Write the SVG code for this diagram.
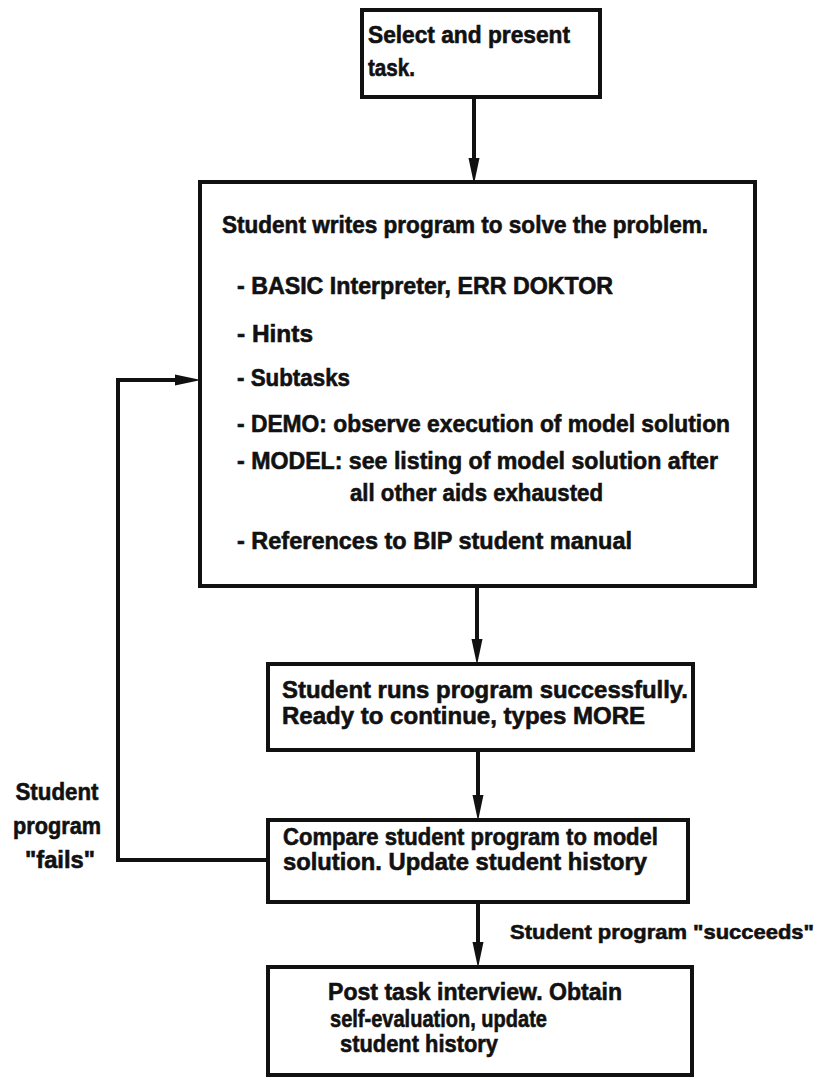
<svg xmlns="http://www.w3.org/2000/svg" width="827" height="1081" viewBox="0 0 827 1081">
  <style>
    .box { fill: #ffffff; stroke: #111111; stroke-width: 4; }
    .link { fill: none; stroke: #111111; stroke-width: 4; }
    .t { font-family: "Liberation Sans", Arial, sans-serif; font-weight: bold; font-size: 24px; fill: #111111; stroke: #111111; stroke-width: 0.6; }
    .edge-label { font-size: 21px; }
  </style>
  <defs>
    <marker id="head" markerUnits="userSpaceOnUse" markerWidth="26" markerHeight="12" refX="14" refY="6" orient="auto">
      <path d="M0,0.5 L26,6 L0,11.5 Z" fill="#111111"/>
    </marker>
  </defs>

  <rect width="827" height="1081" fill="#ffffff"/>

  <!-- connectors -->
  <g id="connectors">
    <line class="link" x1="474" y1="97" x2="474" y2="172" marker-end="url(#head)"/>
    <line class="link" x1="477" y1="586" x2="477" y2="653" marker-end="url(#head)"/>
    <line class="link" x1="478" y1="750" x2="478" y2="809" marker-end="url(#head)"/>
    <line class="link" x1="478" y1="902" x2="478" y2="956" marker-end="url(#head)"/>
    <polyline class="link" points="268,860 118,860 118,380 189,380" marker-end="url(#head)"/>
    <text class="t" x="57" y="800" text-anchor="middle" textLength="83" lengthAdjust="spacingAndGlyphs">Student</text>
    <text class="t" x="57" y="834" text-anchor="middle" textLength="88" lengthAdjust="spacingAndGlyphs">program</text>
    <text class="t" x="60" y="868" text-anchor="middle" textLength="70" lengthAdjust="spacingAndGlyphs">"fails"</text>
    <text class="t edge-label" x="510" y="939" textLength="304" lengthAdjust="spacingAndGlyphs">Student program "succeeds"</text>
  </g>

  <!-- select task -->
  <g id="select-task">
    <rect class="box" x="362" y="10" width="238" height="87"/>
    <text class="t" x="368" y="43" textLength="202" lengthAdjust="spacingAndGlyphs">Select and present</text>
    <text class="t" x="368" y="76" textLength="47" lengthAdjust="spacingAndGlyphs">task.</text>
  </g>

  <!-- student writes program -->
  <g id="write-program">
    <rect class="box" x="200" y="182" width="555" height="404"/>
    <text class="t" x="222" y="233" textLength="486" lengthAdjust="spacingAndGlyphs">Student writes program to solve the problem.</text>
    <text class="t" x="237" y="294" textLength="376" lengthAdjust="spacingAndGlyphs">- BASIC Interpreter, ERR DOKTOR</text>
    <text class="t" x="237" y="342" textLength="76" lengthAdjust="spacingAndGlyphs">- Hints</text>
    <text class="t" x="237" y="386" textLength="113" lengthAdjust="spacingAndGlyphs">- Subtasks</text>
    <text class="t" x="237" y="432" textLength="493" lengthAdjust="spacingAndGlyphs">- DEMO:  observe execution of model solution</text>
    <text class="t" x="237" y="469" textLength="481" lengthAdjust="spacingAndGlyphs">- MODEL:  see listing of model solution after</text>
    <text class="t" x="350" y="501" textLength="253" lengthAdjust="spacingAndGlyphs">all other aids exhausted</text>
    <text class="t" x="237" y="549" textLength="395" lengthAdjust="spacingAndGlyphs">- References to BIP student manual</text>
  </g>

  <!-- program runs -->
  <g id="program-runs">
    <rect class="box" x="268" y="664" width="425" height="86"/>
    <text class="t" x="282" y="698" textLength="406" lengthAdjust="spacingAndGlyphs">Student runs program successfully.</text>
    <text class="t" x="282" y="724" textLength="363" lengthAdjust="spacingAndGlyphs">Ready to continue, types MORE</text>
  </g>

  <!-- compare with model -->
  <g id="compare">
    <rect class="box" x="268" y="820" width="420" height="82"/>
    <text class="t" x="283" y="845" textLength="375" lengthAdjust="spacingAndGlyphs">Compare student program to model</text>
    <text class="t" x="283" y="870" textLength="364" lengthAdjust="spacingAndGlyphs">solution.  Update student history</text>
  </g>

  <!-- interview -->
  <g id="interview">
    <rect class="box" x="268" y="967" width="424" height="108"/>
    <text class="t" x="328" y="1000" textLength="294" lengthAdjust="spacingAndGlyphs">Post task interview.  Obtain</text>
    <text class="t" x="330" y="1027" textLength="217" lengthAdjust="spacingAndGlyphs">self-evaluation,  update</text>
    <text class="t" x="340" y="1052" textLength="158" lengthAdjust="spacingAndGlyphs">student history</text>
  </g>
</svg>
